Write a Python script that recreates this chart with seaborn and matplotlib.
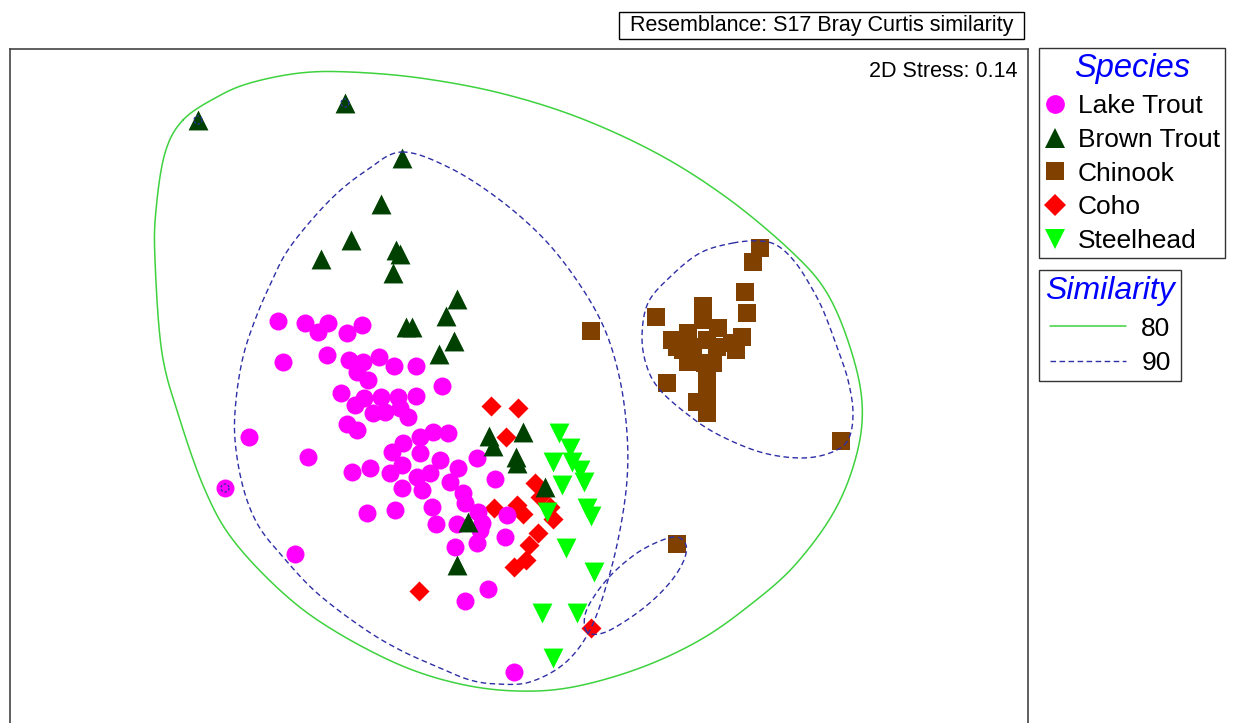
import numpy as np
import pandas as pd
import matplotlib
matplotlib.use("Agg")
import matplotlib.pyplot as plt
from matplotlib.lines import Line2D
from matplotlib.patches import Rectangle
import seaborn as sns

# ---------------- data (NMDS coordinates, display units) ----------------
lake_x = [278, 305, 328, 318, 347, 362, 283, 327, 349, 363, 379, 394, 416, 357, 368, 442,
          341, 355, 364, 381, 373, 385, 398, 416, 400, 408, 347, 357, 249, 308, 352, 370,
          392, 403, 390, 402, 420, 433, 448, 420, 440, 430, 417, 402, 422, 458, 477, 450,
          463, 465, 495, 225, 367, 395, 432, 436, 457, 482, 478, 507, 505, 480, 477, 455,
          295, 488, 465, 514]
lake_y = [321, 323, 323, 332, 333, 325, 362, 355, 360, 362, 357, 366, 366, 372, 380, 386,
          393, 405, 398, 397, 413, 412, 397, 396, 408, 417, 424, 430, 437, 457, 472, 468,
          452, 443, 473, 465, 437, 432, 433, 453, 460, 473, 477, 488, 490, 468, 458, 482,
          493, 503, 479, 488, 513, 510, 507, 524, 524, 523, 512, 515, 537, 530, 543, 547,
          554, 589, 601, 672]

brown_x = [198, 345, 402, 381, 351, 321, 396, 400, 393, 457, 446, 406, 412, 454, 439,
           489, 493, 523, 516, 517, 545, 468, 457]
brown_y = [120, 103, 158, 204, 240, 259, 250, 254, 273, 299, 316, 327, 327, 341, 354,
           436, 446, 432, 457, 463, 487, 522, 565]

chinook_x = [760, 753, 745, 747, 656, 591, 703, 703, 718, 688, 672, 707, 742, 732, 736,
             683, 688, 705, 713, 667, 707, 707, 697, 707, 707, 841, 677, 677, 693, 717]
chinook_y = [248, 262, 292, 313, 317, 331, 306, 320, 328, 333, 340, 340, 337, 343, 350,
             350, 362, 363, 363, 383, 380, 390, 402, 403, 413, 441, 544, 347, 347, 347]

coho_x = [491, 518, 506, 535, 540, 550, 517, 494, 523, 553, 538, 529, 526, 514, 419, 591]
coho_y = [406, 408, 437, 483, 497, 507, 505, 508, 514, 519, 533, 545, 560, 567, 591, 628]

steel_x = [559, 570, 553, 572, 580, 562, 584, 587, 591, 547, 566, 594, 542, 577, 553]
steel_y = [433, 448, 462, 462, 470, 485, 482, 508, 516, 512, 548, 572, 613, 613, 658]

species = ["Lake Trout", "Brown Trout", "Chinook", "Coho", "Steelhead"]
colors = ["#FF00FF", "#004000", "#804000", "#FF0000", "#00FF00"]
markers = ["o", "^", "s", "D", "v"]

# similarity contours (control points of the closed curves)
c80_x = [183, 217, 250, 300, 350, 420, 500, 580, 660, 730, 793, 827, 850, 862, 857, 835,
         795, 750, 700, 640, 573, 517, 460, 400, 333, 283, 233, 205, 180, 162, 155, 156, 165]
c80_y = [120, 97, 83, 73, 72, 78, 93, 118, 155, 200, 253, 293, 347, 402, 453, 510,
         565, 605, 640, 668, 687, 691, 684, 665, 630, 593, 540, 490, 420, 353, 260, 210, 153]

c90a_x = [402, 450, 500, 545, 580, 605, 620, 627, 627, 620, 608, 590, 565, 530, 497, 470,
          440, 400, 363, 317, 283, 258, 243, 235, 236, 243, 255, 270, 290, 330, 367]
c90a_y = [152, 168, 200, 240, 285, 330, 380, 433, 480, 530, 580, 630, 663, 682, 684, 680,
          668, 650, 628, 593, 557, 525, 487, 440, 400, 357, 320, 285, 247, 200, 170]

c90b_x = [733, 760, 778, 795, 810, 823, 837, 848, 853, 848, 830, 800, 760, 717, 687, 660,
          647, 642, 648, 670, 700]
c90b_y = [243, 241, 246, 262, 285, 310, 347, 380, 413, 440, 453, 458, 452, 434, 414, 390,
          367, 337, 303, 277, 253]

c90c_x = [587, 585, 595, 613, 637, 660, 677, 686, 684, 672, 652, 627, 603]
c90c_y = [632, 615, 595, 573, 553, 541, 537, 545, 560, 580, 601, 620, 633]

single90_x = [225, 198, 345]
single90_y = [488, 120, 103]

# ---------------- helpers ----------------
def closed_spline(xs, ys, n=24):
    P = np.column_stack([xs, ys]).astype(float)
    N = len(P)
    t = np.linspace(0, 1, n, endpoint=False)[:, None]
    t2, t3 = t * t, t * t * t
    segs = []
    for i in range(N):
        p0, p1, p2, p3 = P[(i - 1) % N], P[i], P[(i + 1) % N], P[(i + 2) % N]
        segs.append(0.5 * ((2 * p1) + (-p0 + p2) * t + (2 * p0 - 5 * p1 + 4 * p2 - p3) * t2
                           + (-p0 + 3 * p1 - 3 * p2 + p3) * t3))
    segs.append(P[:1])
    return np.vstack(segs)

# ---------------- figure ----------------
sns.set_style("white")
plt.rcParams["font.family"] = ["Liberation Sans", "DejaVu Sans"]
plt.rcParams["text.color"] = "black"

W, H = 1236, 723
fig = plt.figure(figsize=(W / 100, H / 100), dpi=100)
ax = fig.add_axes([10 / W, 0, (1028 - 10) / W, (723 - 49) / H])
ax.set_xlim(10, 1028)
ax.set_ylim(723, 49)
ax.set_xticks([])
ax.set_yticks([])
for s in ["left", "right", "top"]:
    ax.spines[s].set_color("#444444")
    ax.spines[s].set_linewidth(1.2)
ax.spines["bottom"].set_visible(False)

frames = []
for name, xs, ys in [("Lake Trout", lake_x, lake_y), ("Brown Trout", brown_x, brown_y),
                     ("Chinook", chinook_x, chinook_y), ("Coho", coho_x, coho_y),
                     ("Steelhead", steel_x, steel_y)]:
    frames.append(pd.DataFrame({"MDS1": xs, "MDS2": ys, "Species": name}))
df = pd.concat(frames, ignore_index=True)

draw_order = ["Coho", "Lake Trout", "Brown Trout", "Chinook", "Steelhead"]
area = {"Lake Trout": 168, "Brown Trout": 205, "Chinook": 165, "Coho": 104, "Steelhead": 205}
for name in draw_order:
    i = species.index(name)
    sns.scatterplot(data=df[df["Species"] == name], x="MDS1", y="MDS2", ax=ax,
                    color=colors[i], marker=markers[i], s=area[name],
                    linewidth=0, legend=False, zorder=2)
ax.set_xlabel("")
ax.set_ylabel("")

green = "#3ED23E"
blue = "#2E2EA6"
c = closed_spline(c80_x, c80_y)
ax.plot(c[:, 0], c[:, 1], color=green, lw=1.1, zorder=3)
for cx, cy in [(c90a_x, c90a_y), (c90b_x, c90b_y), (c90c_x, c90c_y)]:
    c = closed_spline(cx, cy)
    ax.plot(c[:, 0], c[:, 1], color=blue, lw=1.0, ls=(0, (4, 2.5)), zorder=3)
th = np.linspace(0, 2 * np.pi, 40)
for sx, sy in zip(single90_x, single90_y):
    ax.plot(sx + 4 * np.cos(th), sy + 4 * np.sin(th), color=blue, lw=0.9,
            ls=(0, (2, 1.5)), zorder=3)

ax.text(0.9895, 0.967, "2D Stress: 0.14", transform=ax.transAxes, ha="right", va="center",
        fontsize=15.5, color="black")

# header box
fig.add_artist(Rectangle((619 / W, 1 - 39 / H), (1024 - 619) / W, 27 / H,
                         transform=fig.transFigure, facecolor="white",
                         edgecolor="black", lw=1.0))
fig.text(821.5 / W, 1 - 26 / H, "Resemblance: S17 Bray Curtis similarity", ha="center",
         va="center", fontsize=15.5, color="black")

# ---------------- legends ----------------
msize = {"Lake Trout": 13.5, "Brown Trout": 15, "Chinook": 13.5, "Coho": 11, "Steelhead": 15}
handles = [Line2D([], [], ls="none", marker=markers[i], color=colors[i], markeredgewidth=0,
                  markersize=msize[n]) for i, n in enumerate(species)]
leg1 = fig.legend(handles, species, loc="upper left", bbox_to_anchor=(1039 / W, 1 - 48 / H),
                  bbox_transform=fig.transFigure, borderaxespad=0, fontsize=19,
                  title="Species", title_fontsize=23.5, frameon=True, fancybox=False,
                  edgecolor="#333333", framealpha=1, borderpad=0.2, labelspacing=0.37,
                  handlelength=0.85, handletextpad=0.42, markerfirst=True, labelcolor="black")
leg1.get_title().set_color("#0000FF")
leg1.get_title().set_style("italic")
leg1.get_frame().set_linewidth(1.0)

h2 = [Line2D([], [], color=green, lw=1.1),
      Line2D([], [], color=blue, lw=1.0, ls=(0, (4, 2.5)))]
leg2 = fig.legend(h2, ["80", "90"], loc="upper left", bbox_to_anchor=(1039 / W, 1 - 270 / H),
                  bbox_transform=fig.transFigure, borderaxespad=0, fontsize=19,
                  title="Similarity", title_fontsize=23, frameon=True, fancybox=False,
                  edgecolor="#333333", framealpha=1, borderpad=0.24, labelspacing=0.39,
                  handlelength=2.9, handletextpad=0.57, labelcolor="black")
leg2.get_title().set_color("#0000FF")
leg2.get_title().set_style("italic")
leg2.get_frame().set_linewidth(1.0)

fig.savefig("out.png", dpi=100)
